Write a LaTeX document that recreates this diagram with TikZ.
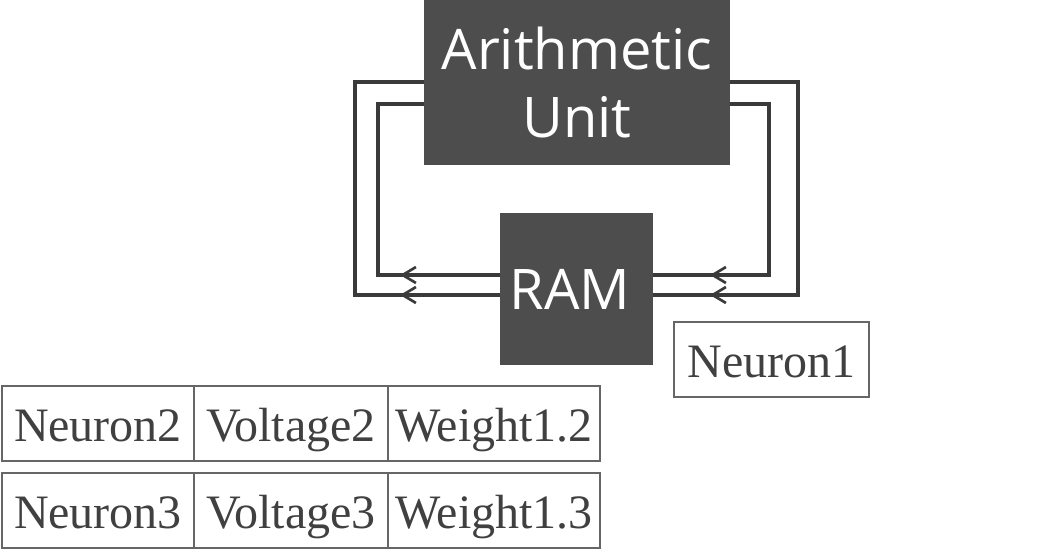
\documentclass[tikz,border=0pt]{standalone}
\usepackage{fontspec}
\setmainfont{Liberation Serif}
\newfontfamily\boxfont{Open Sans}
\usetikzlibrary{positioning,arrows.meta,decorations.markings}

\definecolor{unitgray}{HTML}{4D4D4D}
\definecolor{busgray}{HTML}{3A3A3A}
\definecolor{cellgray}{HTML}{666666}

\tikzset{
  unitbox/.style={fill=unitgray, text=white, inner sep=0pt, outer sep=0pt,
    align=center, font=\boxfont\fontsize{42}{51}\selectfont},
  cellbox/.style={draw=cellgray, line width=1.5pt, inner sep=0pt, outer sep=0pt,
    minimum height=56.25pt, text height=32pt, text depth=5pt,
    text=black!75, font=\fontsize{36}{40}\selectfont},
  bus/.style={draw=busgray, line width=3pt, line join=miter},
  barb/.style={postaction={decorate}, decoration={markings,
    mark=at position #1 with {\arrow{Straight Barb[length=10pt,width=12pt,line width=2pt]}}}},
}

\begin{document}
\begin{tikzpicture}[x=0.75pt, y=-0.75pt]
\useasboundingbox (0,0) rectangle (1064,549);

% --- Units ---
\node[unitbox, minimum width=229.5pt, minimum height=123.75pt] (au) at (577,82.5) {Arithmetic\\Unit};
\node[unitbox, minimum width=114.75pt, minimum height=114pt] (ram) at (576.5,289) {RAM\hspace*{10pt}};

% --- Bus ends ---
\path (ram.west) ++(0,-14) coordinate (ramLi);
\path (ram.west) ++(0,6) coordinate (ramLo);
\path (ram.east) ++(0,-14) coordinate (ramRi);
\path (ram.east) ++(0,6) coordinate (ramRo);
\path (au.west) ++(0,21.5) coordinate (auLi);
\path (au.west) ++(0,-0.5) coordinate (auLo);
\path (au.east) ++(0,21.5) coordinate (auRi);
\path (au.east) ++(0,-0.5) coordinate (auRo);

% RAM -> Arithmetic Unit (left)
\draw[bus, barb=75pt] (ramLi) -- (ramLi -| 378,0) -- (378,0 |- auLi) -- (auLi);
\draw[bus, barb=75pt] (ramLo) -- (ramLo -| 355,0) -- (355,0 |- auLo) -- (auLo);

% Arithmetic Unit -> RAM (right)
\draw[bus, barb=-42.75pt] (auRi) -- (auRi -| 769,0) -- (769,0 |- ramRi) -- (ramRi);
\draw[bus, barb=-42.75pt] (auRo) -- (auRo -| 798,0) -- (798,0 |- ramRo) -- (ramRo);

% --- Neurons ---
\node[cellbox, minimum width=146.25pt] (n1) at (771.5,359.5) {Neuron1};

\node[cellbox, minimum width=144pt] (n2) at (98,423.5) {Neuron2};
\node[cellbox, minimum width=145.5pt, anchor=west] (v2) at (n2.east) {Voltage2};
\node[cellbox, minimum width=159pt, anchor=west] (w2) at (v2.east) {Weight1.2};

\node[cellbox, minimum width=144pt] (n3) at (98,510) {Neuron3};
\node[cellbox, minimum width=145.5pt, anchor=west] (v3) at (n3.east) {Voltage3};
\node[cellbox, minimum width=159pt, anchor=west] (w3) at (v3.east) {Weight1.3};

\end{tikzpicture}
\end{document}
